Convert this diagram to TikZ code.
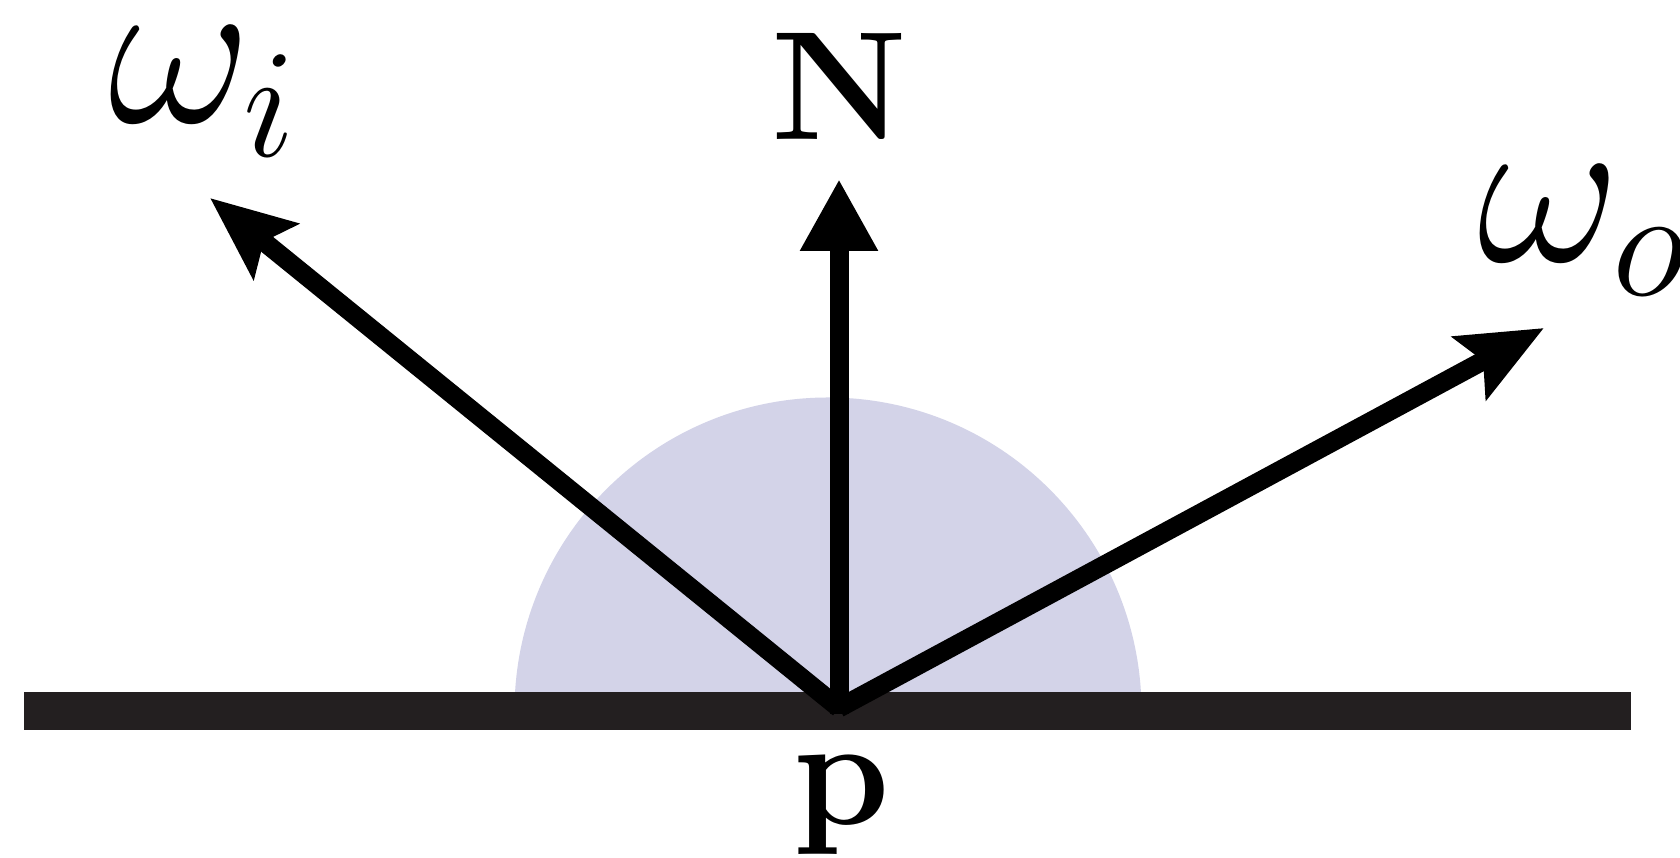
\documentclass[tikz,border=0pt]{standalone}
\usepackage{fix-cm}
\usepackage{amsmath,amssymb}
\usepackage{tikz}
\usetikzlibrary{arrows.meta}
\definecolor{Ink}{HTML}{000000}
\definecolor{Surface}{HTML}{231F20}
\definecolor{Lobe}{HTML}{D3D3E8}
\tikzset{
  ray/.style={line width=5.4pt,draw=Ink,-{Stealth[length=8.4mm,width=7mm,inset=1.5mm]}},
  normal/.style={line width=5.4pt,draw=Ink,-{Triangle[length=7.2mm,width=7.3mm]}},
  bigsym/.style={inner sep=0pt,font=\fontsize{63}{70}\selectfont},
  boldsym/.style={inner sep=0pt,font=\fontsize{44}{50}\selectfont}
}
\begin{document}
\begin{tikzpicture}[x=1cm,y=1cm]
    \useasboundingbox (0,0) rectangle (16.8,8.58);
    % hemisphere and surface
    \fill[Lobe] (5.145,1.47) arc[start angle=180,end angle=0,radius=3.135] -- cycle;
    \fill[Surface] (0.235,1.275) rectangle (16.31,1.655);
    % rays
    \coordinate (o) at (8.39,1.44);
    \coordinate (o2) at (8.39,1.50);
    \coordinate (ni) at (2.10,6.60);
    \coordinate (nn) at (8.39,6.79);
    \coordinate (no) at (15.44,5.30);
    \draw[ray] (o2)--(ni);
    \draw[ray] (o2)--(no);
    \draw[normal] (o)--(nn);
    % labels
    \node[bigsym,anchor=base west] (wi) at (1.08,7.35) {$\omega_i$};
    \node[bigsym,anchor=base west] (wo) at (14.77,5.96) {$\omega_o$};
    \node[boldsym,anchor=base] (N) at (8.395,7.18) {$\mathbf{N}$};
    \node[boldsym,anchor=base] (p) at (8.42,0.33) {$\mathbf{p}$};
\end{tikzpicture}
\end{document}
